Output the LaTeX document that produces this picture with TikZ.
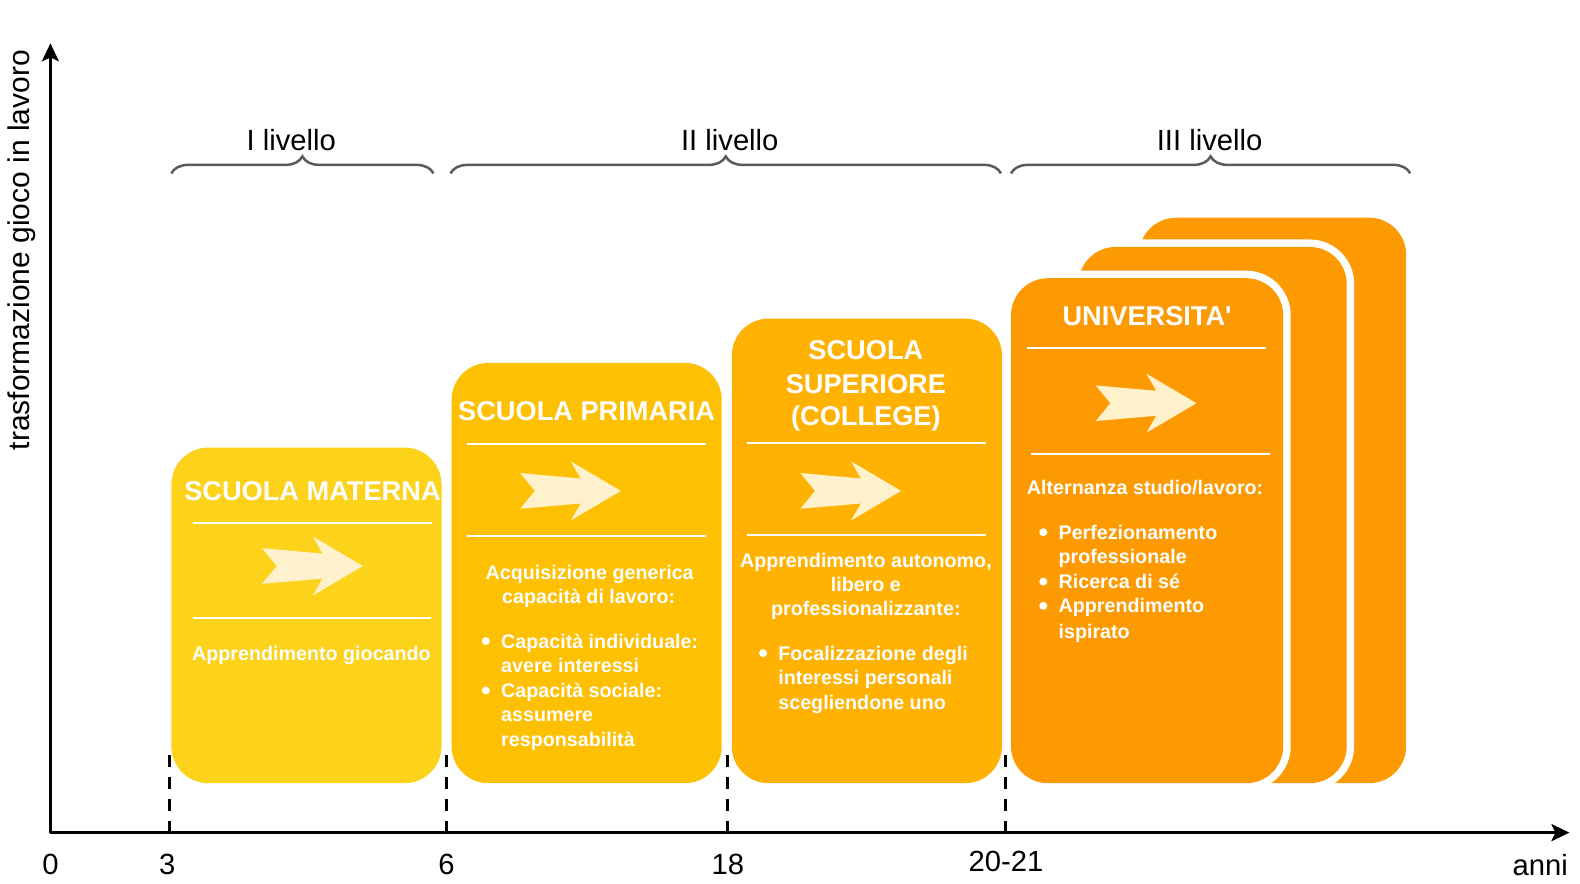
\documentclass[tikz,border=0pt]{standalone}
\usepackage{fontspec}
\setmainfont{Liberation Sans}
\newfontfamily\rawsans{Liberation Sans}
\usetikzlibrary{arrows.meta,decorations.pathreplacing}
\definecolor{cMat}{HTML}{FCD21A}
\definecolor{cPri}{HTML}{FEC002}
\definecolor{cSup}{HTML}{FFB201}
\definecolor{cUni}{HTML}{FE9A01}
\definecolor{cArr}{HTML}{FEF1CC}
\definecolor{cBrace}{HTML}{5B5B5B}
\begin{document}
\begin{tikzpicture}[x=1.008pt,y=-1.008pt,
  boxshape/.style={rounded corners=37pt},
  halo/.style={draw=white, line width=15pt, rounded corners=37pt},
  ttl/.style={text=white, font=\fontsize{27.2}{32}\selectfont\bfseries, inner sep=0pt, anchor=base},
  bdy/.style={text=white, font=\fontsize{19.7}{24}\selectfont\bfseries, inner sep=0pt, anchor=base},
  bdyl/.style={bdy, anchor=base west},
  lbl/.style={text=black, font=\fontsize{29.2}{34}\selectfont, inner sep=0pt, anchor=base},
  sepline/.style={draw=white, line width=2pt},
  bulletdot/.style={circle, fill=white, inner sep=0pt, minimum size=8pt},
  guide/.style={black, line width=3pt, dash pattern=on 12pt off 10pt},
  axisline/.style={black, line width=3pt, -{Stealth[length=18pt,width=17pt,inset=4pt]}},
  lvlbrace/.style={draw=cBrace, line width=2.5pt, decorate, decoration={brace, amplitude=17pt}},
  fwdarrow/.pic={\fill[cArr] (-50,-17.7) -- (-35.5,0) -- (-50,17.7) -- (10,12.5) -- (0.3,29.3) -- (50,0) -- (0.3,-29.3) -- (10,-12.3) -- cycle;}
]
\useasboundingbox (0,0) rectangle (1567.46,876.98);

% ---------- boxes ----------
\fill[cMat, boxshape] (170,444) rectangle (438,777);
\fill[cPri, boxshape] (448,360) rectangle (716,777);
\fill[cSup, boxshape] (726,316) rectangle (994,777);
\fill[cUni, boxshape] (1130,216) rectangle (1395,777);
\draw[halo] (1070,245) rectangle (1336,777);
\fill[cUni, boxshape] (1070,245) rectangle (1336,777);
\draw[halo] (1003,276) rectangle (1273,777);
\fill[cUni, boxshape] (1003,276) rectangle (1273,777);

% ---------- axes ----------
\coordinate (O) at (50,826);
\coordinate (ytop) at (50,43);
\coordinate (xend) at (1557,826);
\draw[axisline] (O) -- (ytop);
\draw[axisline] (O) -- (xend);

% ---------- dashed guides ----------
\foreach \gx/\gn in {168/a,443/b,722/c,998/d}{
  \coordinate (g\gn0) at (\gx,826);
  \coordinate (g\gn1) at (\gx,748);
  \draw[guide] (g\gn0) -- (g\gn1);
}

% ---------- axis labels ----------
\node[lbl] (n0) at (50,868) {0};
\node[lbl] (n3) at (166,868) {3};
\node[lbl] (n6) at (443,868) {6};
\node[lbl] (n18) at (722,868) {18};
\node[lbl] (n20) at (998,865) {20-21};
\node[lbl] (nanni) at (1528,869) {anni};
\node[lbl, anchor=center, rotate=90, font=\fontsize{30}{34}\selectfont] (ylab) at (22,248) {trasformazione gioco in lavoro};

% ---------- braces ----------
\coordinate (b1a) at (170,172); \coordinate (b1b) at (430,172);
\coordinate (b2a) at (447,172); \coordinate (b2b) at (993,172);
\coordinate (b3a) at (1003,172); \coordinate (b3b) at (1399,172);
\draw[lvlbrace] (b1a) -- (b1b);
\draw[lvlbrace] (b2a) -- (b2b);
\draw[lvlbrace] (b3a) -- (b3b);
\node[lbl] (lv1) at (289,149) {I livello};
\node[lbl] (lv2) at (724,149) {II livello};
\node[lbl] (lv3) at (1200,149) {III livello};

% ---------- box 1 ----------
\node[ttl] (t1) at (310,497) {SCUOLA MATERNA};
\draw[sepline] (191,519) -- (429,519);
\pic at (310,561.5) {fwdarrow};
\draw[sepline] (191,613) -- (428,613);
\node[bdy] (m1) at (309,655) {Apprendimento giocando};

% ---------- box 2 ----------
\node[ttl] (t2) at (582,417) {SCUOLA PRIMARIA};
\draw[sepline] (463,440) -- (700,440);
\pic at (566,487) {fwdarrow};
\draw[sepline] (463,532) -- (700,532);
\node[bdy] (p1) at (585,575) {Acquisizione generica};
\node[bdy] (p2) at (584,599) {capacità di lavoro:};
\node[bulletdot] (pd1) at (482,636) {};
\node[bdyl] (p3) at (497,643) {Capacità individuale:};
\node[bdyl] (p4) at (497,667) {avere interessi};
\node[bulletdot] (pd2) at (482,685) {};
\node[bdyl] (p5) at (497,692) {Capacità sociale:};
\node[bdyl] (p6) at (497,716) {assumere};
\node[bdyl] (p7) at (497,741) {responsabilità};

% ---------- box 3 ----------
\node[ttl] (t3a) at (859,357) {SCUOLA};
\node[ttl] (t3b) at (859,390) {SUPERIORE};
\node[ttl] (t3c) at (859,422) {(COLLEGE)};
\draw[sepline] (741,439) -- (978,439);
\pic at (844,487) {fwdarrow};
\draw[sepline] (741,531) -- (978,531);
\node[bdy] (s1) at (859,563) {Apprendimento autonomo,};
\node[bdy] (s2) at (859,587) {libero e};
\node[bdy] (s3) at (859,611) {professionalizzante:};
\node[bulletdot] (sd1) at (757,648) {};
\node[bdyl] (s4) at (772,655) {Focalizzazione degli};
\node[bdyl] (s5) at (772,679) {interessi personali};
\node[bdyl] (s6) at (772,704) {scegliendone uno};

% ---------- box 4 ----------
\node[ttl, font=\rawsans\fontsize{27.2}{32}\selectfont\bfseries] (t4) at (1138,323) {UNIVERSITA'};
\draw[sepline] (1019,345) -- (1256,345);
\pic at (1137,400) {fwdarrow};
\draw[sepline] (1023,450) -- (1260,450);
\node[bdy] (u1) at (1136,491) {Alternanza studio/lavoro:};
\node[bulletdot] (ud1) at (1035,528) {};
\node[bdyl] (u2) at (1050,535) {Perfezionamento};
\node[bdyl] (u3) at (1050,559) {professionale};
\node[bulletdot] (ud2) at (1035,577) {};
\node[bdyl] (u4) at (1050,584) {Ricerca di sé};
\node[bulletdot] (ud3) at (1035,601) {};
\node[bdyl] (u5) at (1050,608) {Apprendimento};
\node[bdyl] (u6) at (1050,633) {ispirato};
\end{tikzpicture}
\end{document}
